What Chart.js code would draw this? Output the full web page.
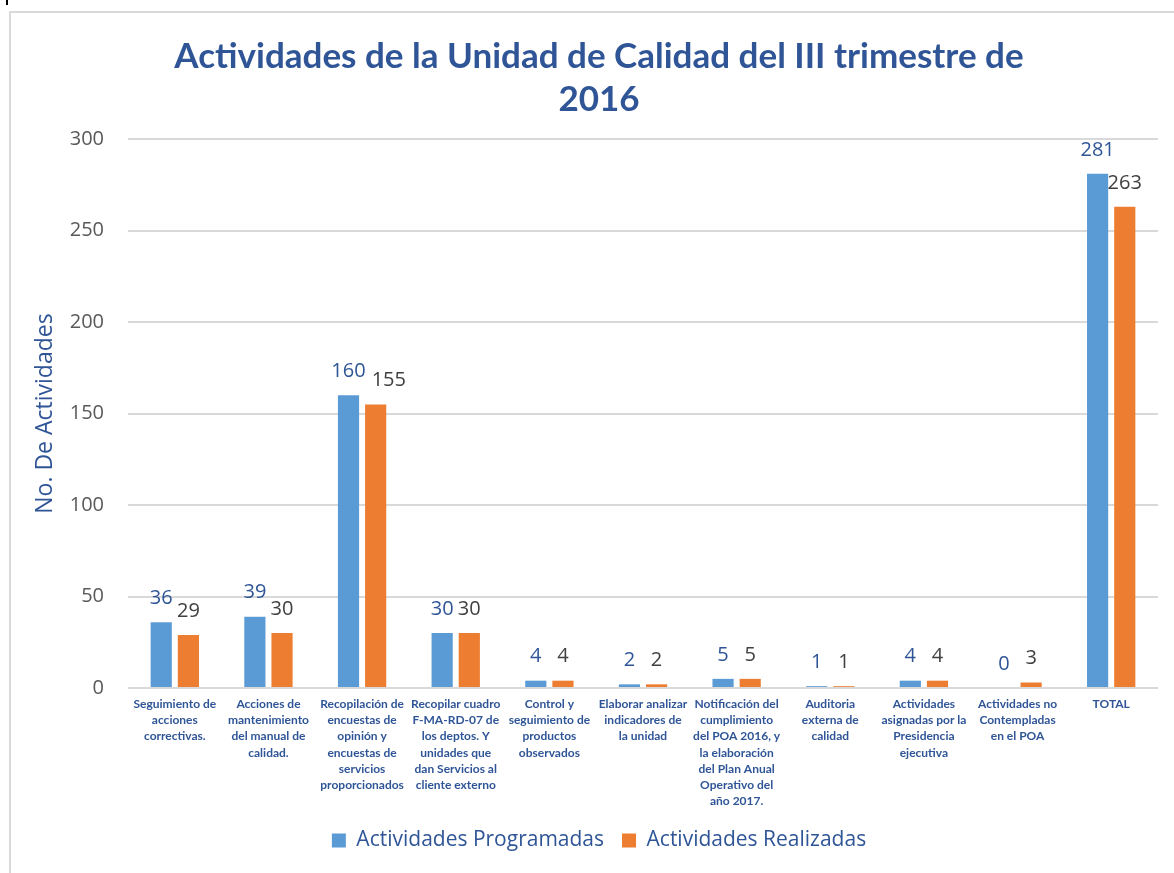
<!DOCTYPE html>
<html>
<head>
<meta charset="utf-8">
<script src="https://cdn.jsdelivr.net/npm/chart.js@4.4.0/dist/chart.umd.min.js"></script>
<style>
  html, body { margin: 0; padding: 0; background: #fff; overflow: hidden; }
  #wrap { position: relative; width: 1174px; height: 873px; }
  #frame { position: absolute; left: 9px; top: 11px; width: 1200px; height: 900px; border: 2px solid #D9D9D9; box-sizing: border-box; }
  #mark { position: absolute; left: 6px; top: 0; width: 2px; height: 5px; background: #000; }
  canvas { position: absolute; left: 0; top: 0; }
</style>
</head>
<body>
<div id="wrap">
  <div id="frame"></div>
  <div id="mark"></div>
  <canvas id="calidad" width="1174" height="873"></canvas>
</div>
<script>
var categories = [
  ["Seguimiento de", "acciones", "correctivas."],
  ["Acciones de", "mantenimiento", "del manual de", "calidad."],
  ["Recopilación de", "encuestas de", "opinión y", "encuestas de", "servicios", "proporcionados"],
  ["Recopilar cuadro", "F-MA-RD-07 de", "los deptos. Y", "unidades que", "dan Servicios al", "cliente externo"],
  ["Control y", "seguimiento de", "productos", "observados"],
  ["Elaborar analizar", "indicadores de", "la unidad"],
  ["Notificación del", "cumplimiento", "del POA 2016, y", "la elaboración", "del Plan Anual", "Operativo del", "año 2017."],
  ["Auditoria", "externa de", "calidad"],
  ["Actividades", "asignadas por la", "Presidencia", "ejecutiva"],
  ["Actividades no", "Contempladas", "en el POA"],
  ["TOTAL"]
];
var programadas = [36, 39, 160, 30, 4, 2, 5, 1, 4, 0, 281];
var realizadas = [29, 30, 155, 30, 4, 2, 5, 1, 4, 3, 263];

var titleLines = ["Actividades de la Unidad de Calidad del III trimestre de", "2016"];

var blueText = '#2F5597';
var labelColors = [blueText, '#404040'];
var sans = '"Open Sans", "Noto Sans", sans-serif';

// etiquetas de valor encima de cada barra (la naranja se corre a la derecha si choca)
var barLabels = {
  id: 'barLabels',
  afterDatasetsDraw: function(chart) {
    var ctx = chart.ctx;
    ctx.save();
    ctx.font = '20px ' + sans;
    ctx.textAlign = 'center';
    ctx.textBaseline = 'middle';
    var prev = [];
    chart.data.datasets.forEach(function(ds, i) {
      var meta = chart.getDatasetMeta(i);
      ctx.fillStyle = labelColors[i];
      meta.data.forEach(function(bar, j) {
        var txt = String(ds.data[j]);
        var w = ctx.measureText(txt).width;
        var x = bar.x, y = bar.y - 24;
        var p = prev[j];
        if (p && Math.abs(p.y - y) < 22 && x - w / 2 < p.right + 2) {
          x = p.right + 6 + w / 2;
        }
        ctx.fillText(txt, x, y);
        prev[j] = { right: x + w / 2, y: y };
      });
    });
    ctx.restore();
  }
};

var chart = new Chart(document.getElementById('calidad'), {
  type: 'bar',
  data: {
    labels: categories,
    datasets: [
      { label: 'Actividades Programadas', data: programadas, backgroundColor: '#5B9BD5',
        barPercentage: 0.78, categoryPercentage: 0.58 },
      { label: 'Actividades Realizadas', data: realizadas, backgroundColor: '#ED7D31',
        barPercentage: 0.78, categoryPercentage: 0.58 }
    ]
  },
  options: {
    responsive: false,
    animation: false,
    layout: { padding: { left: 40, right: 16, top: 0, bottom: 12 } },
    plugins: {
      title: {
        display: true,
        text: titleLines,
        color: blueText,
        font: { family: 'Lato, "Noto Sans", sans-serif', size: 35, weight: 'bold', lineHeight: 1.23 },
        padding: { top: 35.5, bottom: 17.5 }
      },
      legend: {
        position: 'bottom',
        labels: {
          boxWidth: 14,
          boxHeight: 14,
          padding: 18,
          color: blueText,
          font: { family: sans, size: 21 }
        }
      },
      tooltip: { enabled: false }
    },
    scales: {
      y: {
        min: 0,
        max: 300,
        ticks: {
          stepSize: 50,
          padding: 24,
          color: '#595959',
          font: { family: sans, size: 20 }
        },
        grid: { color: '#D9D9D9', lineWidth: 2, drawTicks: false },
        border: { display: false },
        title: {
          display: true,
          text: 'No. De Actividades',
          color: blueText,
          font: { family: sans, size: 23, lineHeight: 0.5 },
          padding: { top: 0, bottom: 0 }
        },
        afterFit: function(scale) { scale.width = 88; }
      },
      x: {
        grid: { display: false, drawTicks: false },
        border: { display: false },
        ticks: {
          autoSkip: false,
          maxRotation: 0,
          minRotation: 0,
          padding: 8,
          color: blueText,
          font: { family: 'Lato, "Noto Sans", sans-serif', size: 12, weight: 'bold', lineHeight: 1.35 }
        },
        afterFit: function(scale) { scale.height = 124; }
      }
    }
  },
  plugins: [barLabels]
});
</script>
</body>
</html>
